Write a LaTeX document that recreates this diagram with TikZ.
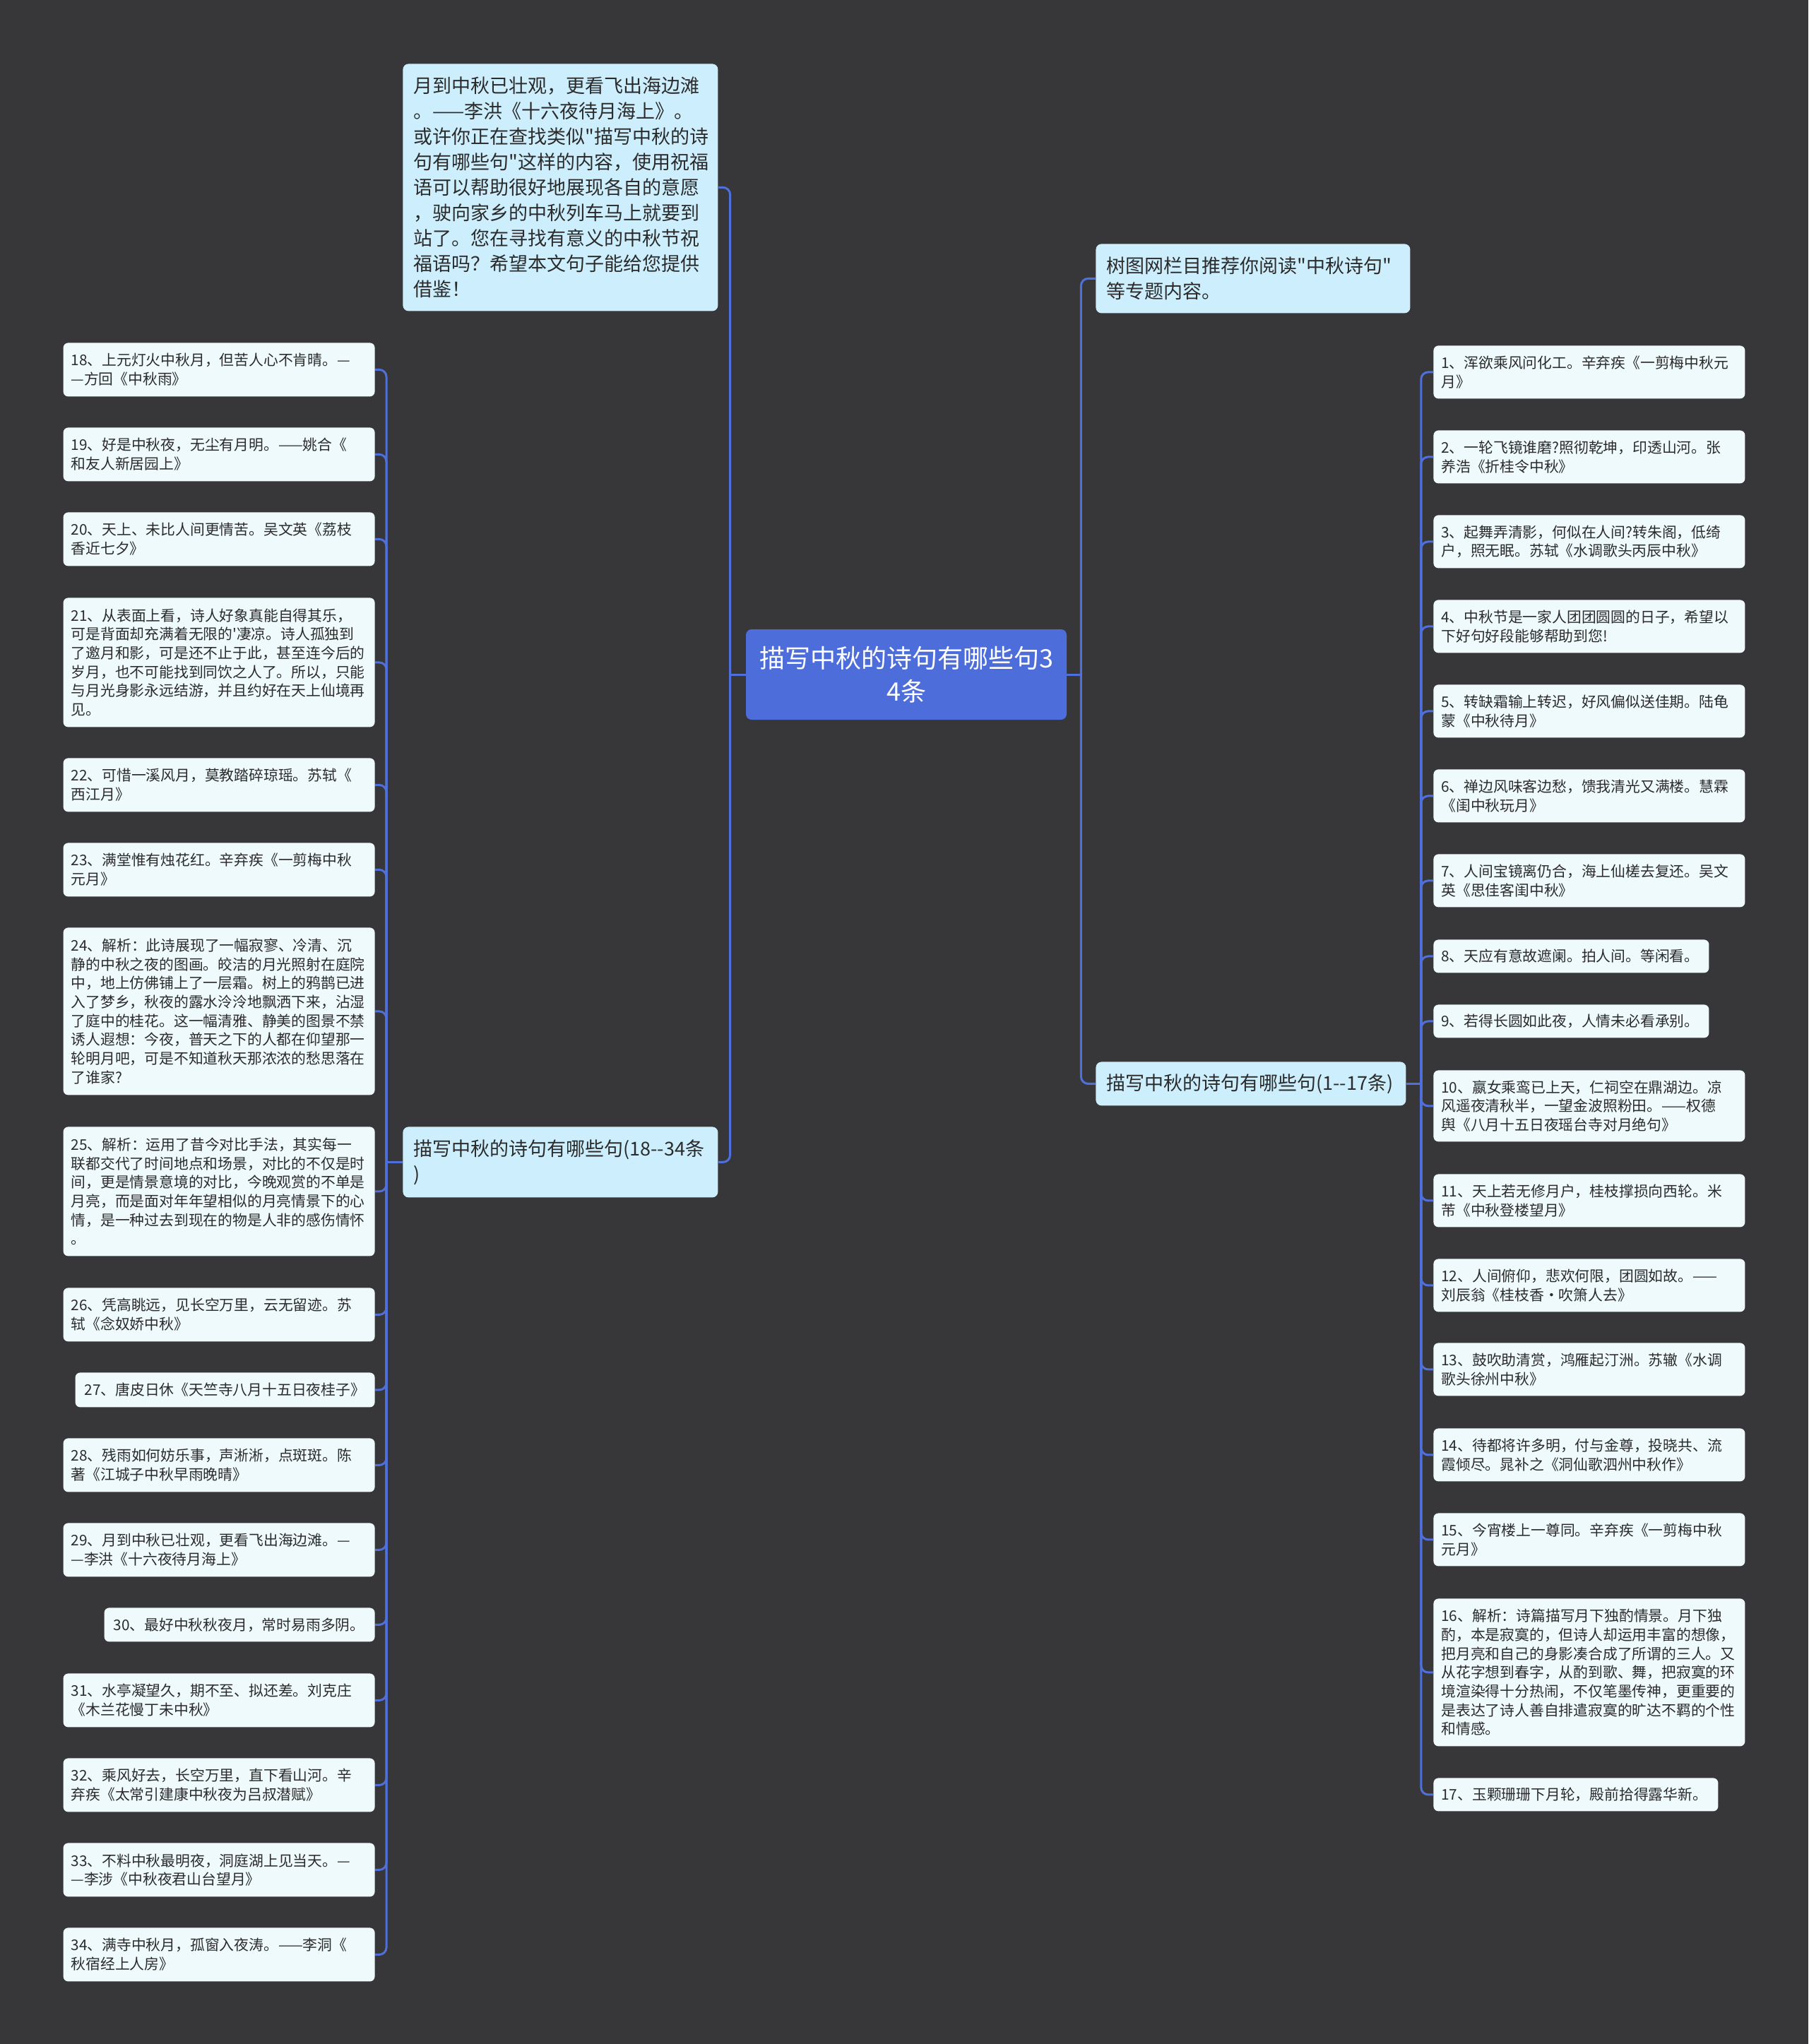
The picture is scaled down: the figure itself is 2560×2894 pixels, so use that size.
\documentclass[tikz,border=0pt]{standalone}
\usepackage{fontspec}
\setmainfont{Noto Sans CJK SC}[Ligatures=TeXOff]
\definecolor{bgdark}{HTML}{373638}
\definecolor{rootblue}{HTML}{4D6DDB}
\definecolor{linkblue}{HTML}{4F70DA}
\definecolor{subcyan}{HTML}{CDEFFD}
\definecolor{leafcyan}{HTML}{EFFAFD}
\definecolor{ink}{HTML}{2B2B2B}

\begin{document}
\begin{tikzpicture}[x=0.5pt, y=-0.5pt,
    link/.style={draw=linkblue, line width=1.5pt, rounded corners=5pt},
    root/.style={fill=rootblue, text=white, rounded corners=4pt, align=center,
        minimum width=227pt, minimum height=64pt, text width=215pt,
        font={\fontsize{18pt}{23.5pt}\selectfont}},
    sub/.style={fill=subcyan, text=ink, rounded corners=4pt, align=left, anchor=north west,
        inner xsep=7.5pt, inner ysep=0pt, font={\fontsize{13.5pt}{18pt}\selectfont}},
    leafL/.style={fill=leafcyan, text=ink, rounded corners=3.5pt, align=left, anchor=north east,
        inner xsep=5.5pt, inner ysep=0pt, minimum width=220.5pt, text width=209.5pt,
        font={\fontsize{10.4pt}{13.35pt}\selectfont}},
    leafR/.style={leafL, anchor=north west}]

    \fill[bgdark] (0,0) rectangle (2560,2894);

    % centre
    \node[root] (root) at (1283,955) {描写中秋的诗句有哪些句3\\4条};

    % first level
    \node[sub, minimum width=223pt, minimum height=175pt, text width=208pt] (intro) at (570,90)
        {月到中秋已壮观，更看飞出海边滩\\。——李洪《十六夜待月海上》。\\或许你正在查找类似"描写中秋的诗\\句有哪些句"这样的内容，使用祝福\\语可以帮助很好地展现各自的意愿\\，驶向家乡的中秋列车马上就要到\\站了。您在寻找有意义的中秋节祝\\福语吗？希望本文句子能给您提供\\借鉴！};
    \node[sub, minimum width=223pt, minimum height=50pt, text width=208pt] (grpL) at (570,1595)
        {描写中秋的诗句有哪些句(18--34条\\)};
    \node[sub, minimum width=222.5pt, minimum height=49pt, text width=207.5pt] (recom) at (1551,345)
        {树图网栏目推荐你阅读"中秋诗句"\\等专题内容。};
    \node[sub, minimum width=219.5pt, minimum height=31pt, text width=204.5pt] (grpR) at (1551,1503)
        {描写中秋的诗句有哪些句(1--17条)};

    % left leaves 18--34
    \node[leafL, minimum height=38pt] (l18) at (531,485) {18、上元灯火中秋月，但苦人心不肯晴。—\\—方回《中秋雨》};
    \node[leafL, minimum height=38pt] (l19) at (531,605) {19、好是中秋夜，无尘有月明。——姚合《\\和友人新居园上》};
    \node[leafL, minimum height=38pt] (l20) at (531,725) {20、天上、未比人间更情苦。吴文英《荔枝\\香近七夕》};
    \node[leafL, minimum height=91.5pt] (l21) at (531,846) {21、从表面上看，诗人好象真能自得其乐，\\可是背面却充满着无限的'凄凉。诗人孤独到\\了邀月和影，可是还不止于此，甚至连今后的\\岁月，也不可能找到同饮之人了。所以，只能\\与月光身影永远结游，并且约好在天上仙境再\\见。};
    \node[leafL, minimum height=38pt] (l22) at (531,1073) {22、可惜一溪风月，莫教踏碎琼瑶。苏轼《\\西江月》};
    \node[leafL, minimum height=38pt] (l23) at (531,1193) {23、满堂惟有烛花红。辛弃疾《一剪梅中秋\\元月》};
    \node[leafL, minimum height=118.5pt] (l24) at (531,1313) {24、解析：此诗展现了一幅寂寥、冷清、沉\\静的中秋之夜的图画。皎洁的月光照射在庭院\\中，地上仿佛铺上了一层霜。树上的鸦鹊已进\\入了梦乡，秋夜的露水泠泠地飘洒下来，沾湿\\了庭中的桂花。这一幅清雅、静美的图景不禁\\诱人遐想：今夜，普天之下的人都在仰望那一\\轮明月吧，可是不知道秋天那浓浓的愁思落在\\了谁家?};
    \node[leafL, minimum height=91.5pt] (l25) at (531,1595) {25、解析：运用了昔今对比手法，其实每一\\联都交代了时间地点和场景，对比的不仅是时\\间，更是情景意境的对比，今晚观赏的不单是\\月亮，而是面对年年望相似的月亮情景下的心\\情，是一种过去到现在的物是人非的感伤情怀\\。};
    \node[leafL, minimum height=38pt] (l26) at (531,1823) {26、凭高眺远，见长空万里，云无留迹。苏\\轼《念奴娇中秋》};
    \node[leafL, minimum height=24.5pt, minimum width=212pt, text width=199pt, inner xsep=6.5pt] (l27) at (531,1943) {27、唐皮日休《天竺寺八月十五日夜桂子》};
    \node[leafL, minimum height=38pt] (l28) at (531,2036) {28、残雨如何妨乐事，声淅淅，点斑斑。陈\\著《江城子中秋早雨晚晴》};
    \node[leafL, minimum height=38pt] (l29) at (531,2156) {29、月到中秋已壮观，更看飞出海边滩。—\\—李洪《十六夜待月海上》};
    \node[leafL, minimum height=24pt, minimum width=191.5pt, text width=178.5pt, inner xsep=6.5pt] (l30) at (531,2276) {30、最好中秋秋夜月，常时易雨多阴。};
    \node[leafL, minimum height=38pt] (l31) at (531,2369) {31、水亭凝望久，期不至、拟还差。刘克庄\\《木兰花慢丁未中秋》};
    \node[leafL, minimum height=38pt] (l32) at (531,2489) {32、乘风好去，长空万里，直下看山河。辛\\弃疾《太常引建康中秋夜为吕叔潜赋》};
    \node[leafL, minimum height=38pt] (l33) at (531,2609) {33、不料中秋最明夜，洞庭湖上见当天。—\\—李涉《中秋夜君山台望月》};
    \node[leafL, minimum height=38pt] (l34) at (531,2729) {34、满寺中秋月，孤窗入夜涛。——李洞《\\秋宿经上人房》};

    % right leaves 1--17
    \node[leafR, minimum height=37.5pt] (r1) at (2029,489) {1、浑欲乘风问化工。辛弃疾《一剪梅中秋元\\月》};
    \node[leafR, minimum height=37.5pt] (r2) at (2029,609) {2、一轮飞镜谁磨?照彻乾坤，印透山河。张\\养浩《折桂令中秋》};
    \node[leafR, minimum height=37.5pt] (r3) at (2029,729) {3、起舞弄清影，何似在人间?转朱阁，低绮\\户，照无眠。苏轼《水调歌头丙辰中秋》};
    \node[leafR, minimum height=37.5pt] (r4) at (2029,849) {4、中秋节是一家人团团圆圆的日子，希望以\\下好句好段能够帮助到您!};
    \node[leafR, minimum height=37.5pt] (r5) at (2029,969) {5、转缺霜输上转迟，好风偏似送佳期。陆龟\\蒙《中秋待月》};
    \node[leafR, minimum height=37.5pt] (r6) at (2029,1089) {6、禅边风味客边愁，馈我清光又满楼。慧霖\\《闺中秋玩月》};
    \node[leafR, minimum height=37.5pt] (r7) at (2029,1209) {7、人间宝镜离仍合，海上仙槎去复还。吴文\\英《思佳客闺中秋》};
    \node[leafR, minimum height=23.5pt, minimum width=195pt, text width=184pt] (r8) at (2029,1330) {8、天应有意故遮阑。拍人间。等闲看。};
    \node[leafR, minimum height=23.5pt, minimum width=195pt, text width=184pt] (r9) at (2029,1422) {9、若得长圆如此夜，人情未必看承别。};
    \node[leafR, minimum height=50.5pt] (r10) at (2029,1515) {10、嬴女乘鸾已上天，仁祠空在鼎湖边。凉\\风遥夜清秋半，一望金波照粉田。——权德\\舆《八月十五日夜瑶台寺对月绝句》};
    \node[leafR, minimum height=37.5pt] (r11) at (2029,1662) {11、天上若无修月户，桂枝撑损向西轮。米\\芾《中秋登楼望月》};
    \node[leafR, minimum height=37.5pt] (r12) at (2029,1782) {12、人间俯仰，悲欢何限，团圆如故。——\\刘辰翁《桂枝香·吹箫人去》};
    \node[leafR, minimum height=37.5pt] (r13) at (2029,1901) {13、鼓吹助清赏，鸿雁起汀洲。苏辙《水调\\歌头徐州中秋》};
    \node[leafR, minimum height=37.5pt] (r14) at (2029,2022) {14、待都将许多明，付与金尊，投晓共、流\\霞倾尽。晁补之《洞仙歌泗州中秋作》};
    \node[leafR, minimum height=37.5pt] (r15) at (2029,2142) {15、今宵楼上一尊同。辛弃疾《一剪梅中秋\\元月》};
    \node[leafR, minimum height=104.5pt] (r16) at (2029,2263) {16、解析：诗篇描写月下独酌情景。月下独\\酌，本是寂寞的，但诗人却运用丰富的想像，\\把月亮和自己的身影凑合成了所谓的三人。又\\从花字想到春字，从酌到歌、舞，把寂寞的环\\境渲染得十分热闹，不仅笔墨传神，更重要的\\是表达了诗人善自排遣寂寞的旷达不羁的个性\\和情感。};
    \node[leafR, minimum height=23.5pt, minimum width=201.5pt, text width=190.5pt] (r17) at (2029,2517) {17、玉颗珊珊下月轮，殿前拾得露华新。};

    % connectors
    \draw[link] (root.west) -- ++(-22,0) coordinate (busA);
    \draw[link] (busA) |- (intro.east);
    \draw[link] (busA) |- (grpL.east);
    \draw[link] (root.east) -- ++(20,0) coordinate (busB);
    \draw[link] (busB) |- (recom.west);
    \draw[link] (busB) |- (grpR.west);
    \draw[link] (grpL.west) -- ++(-23,0) coordinate (busC);
    \foreach \i in {18,...,34}
        \draw[link] (busC) |- (l\i.east);
    \draw[link] (grpR.east) -- ++(21,0) coordinate (busD);
    \foreach \i in {1,...,17}
        \draw[link] (busD) |- (r\i.west);

\end{tikzpicture}
\end{document}
